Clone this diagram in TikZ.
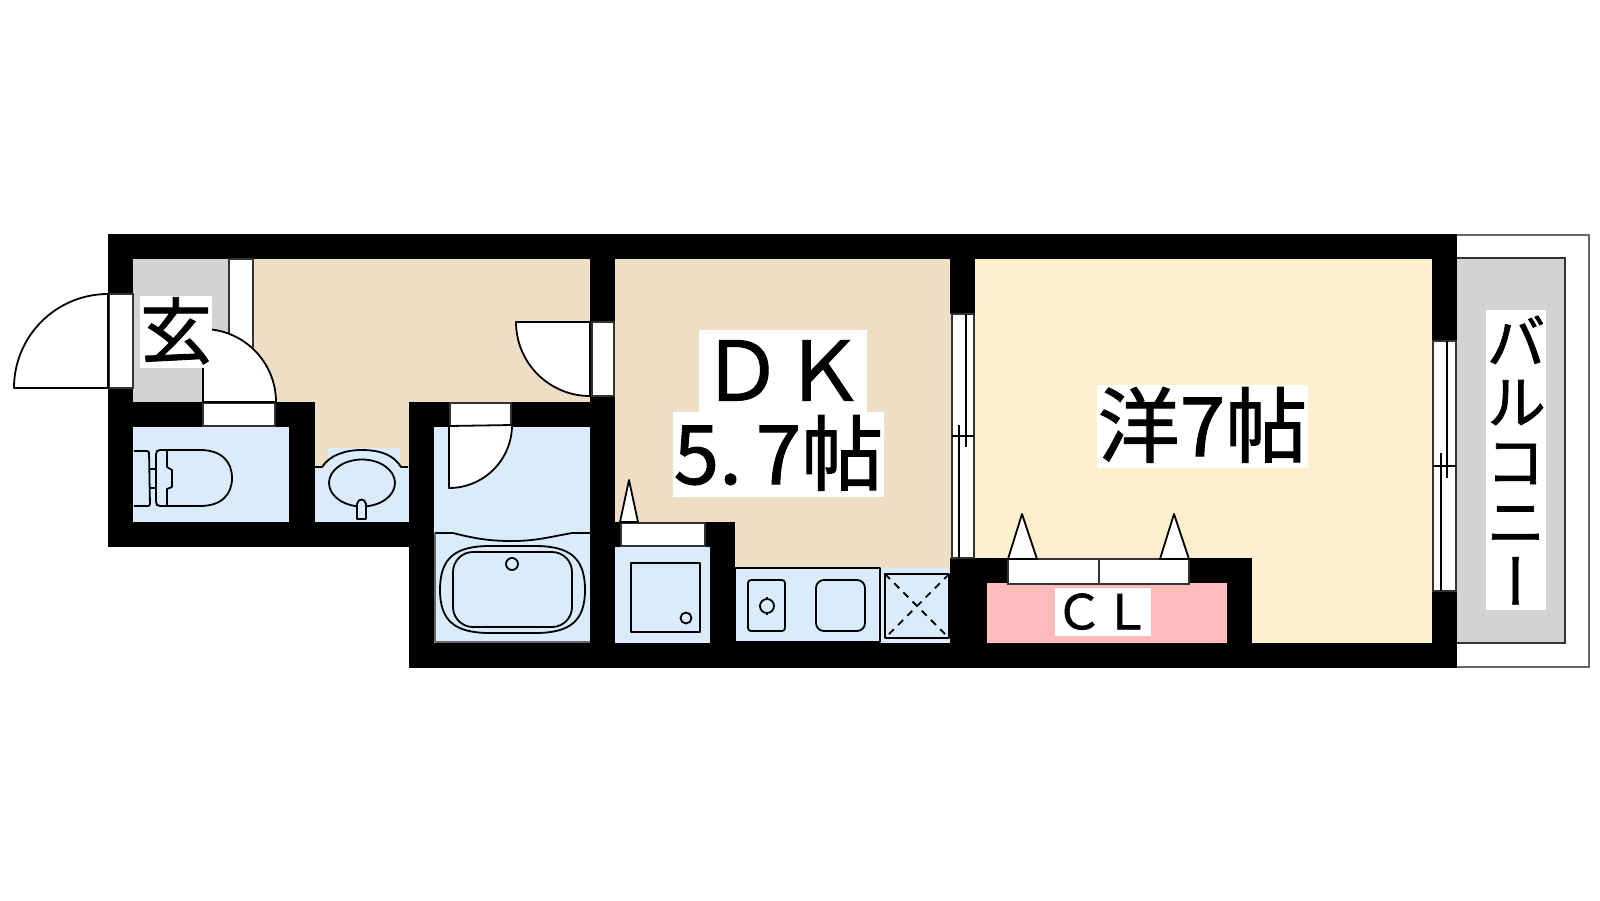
\documentclass[tikz,border=0pt]{standalone}
\usepackage{fontspec}
\setmainfont[RawFeature={embolden=1.2}]{Noto Sans CJK JP}
\newfontfamily\cjkv[RawFeature={+vert;embolden=1.2}]{Noto Sans CJK JP}
\usepackage{tikz}
\pgfdeclarelayer{background}
\pgfsetlayers{background,main}
\definecolor{dkbeige}{RGB}{238,222,197}
\definecolor{roomyellow}{RGB}{254,240,207}
\definecolor{wetblue}{RGB}{218,235,252}
\definecolor{clpink}{RGB}{255,187,187}
\definecolor{floorgray}{RGB}{211,211,211}
\tikzstyle{wall}=[fill=black]
\tikzstyle{fixture}=[draw=black, line width=1.8pt, line join=round]
\tikzstyle{opening}=[draw=black!80, fill=white, line width=1.4pt]
\tikzstyle{door}=[draw=black, fill=white, line width=1.8pt, line join=round]
\tikzset{roomlabel/.style={fill=white, inner sep=0pt, font=\fontsize{#1}{#1}\selectfont, text height=.86*#1, text depth=.14*#1}}

\begin{document}
\begin{tikzpicture}[x=1pt,y=-1pt]
  \useasboundingbox (0,0) rectangle (1600,900);

  \begin{pgfonlayer}{background}
    \fill[white] (0,0) rectangle (1600,900);
    \fill[floorgray] (133,259) rectangle (229,402);
    \fill[dkbeige] (253,259) rectangle (590,402);
    \fill[dkbeige] (315,402) rectangle (409,467);
    \fill[dkbeige] (615,259) rectangle (951,568);
    \fill[roomyellow] (975,259) rectangle (1432,643);
    \fill[wetblue] (133,427) rectangle (289,522);
    \fill[wetblue] (315,467) rectangle (409,522);
    \fill[wetblue] (328,448) rectangle (400,467);
    \fill[wetblue] (434,427) rectangle (590,643);
    \fill[wetblue] (615,547) rectangle (710,643);
    \fill[wetblue] (735,568) rectangle (951,643);
    \fill[clpink] (987,583) rectangle (1227,643);
    \path[draw=black!60, fill=white, line width=1.4pt] (1445,235) rectangle (1589,667);
    \path[draw=black!80, fill=floorgray, line width=1.4pt] (1450,258) rectangle (1565,643);
  \end{pgfonlayer}

  % walls
  \path[wall] (108,234) rectangle (1457,259);
  \path[wall] (108,234) rectangle (133,294);
  \path[wall] (108,388) rectangle (133,547);
  \path[wall] (108,522) rectangle (409,547);
  \path[wall] (133,402) rectangle (203,427);
  \path[wall] (275,402) rectangle (315,427);
  \path[wall] (289,402) rectangle (315,547);
  \path[wall] (409,402) rectangle (434,668);
  \path[wall] (409,402) rectangle (450,427);
  \path[wall] (511,402) rectangle (615,427);
  \path[wall] (590,234) rectangle (615,322);
  \path[wall] (590,396) rectangle (615,668);
  \path[wall] (409,643) rectangle (1457,668);
  \path[wall] (615,522) rectangle (621,547);
  \path[wall] (705,522) rectangle (735,547);
  \path[wall] (710,522) rectangle (735,668);
  \path[wall] (950,234) rectangle (975,314);
  \path[wall] (950,558) rectangle (1008,583);
  \path[wall] (1189,558) rectangle (1252,583);
  \path[wall] (950,558) rectangle (987,668);
  \path[wall] (1227,558) rectangle (1252,668);
  \path[wall] (1432,234) rectangle (1457,341);
  \path[wall] (1432,591) rectangle (1457,668);

  % openings
  \path[opening] (109,294) rectangle (133,388);
  \path[opening] (229,259) rectangle (253,370);
  \path[opening] (203,403) rectangle (275,426);
  \path[opening] (592,322) rectangle (614,396);
  \path[opening] (450,403) rectangle (511,426);
  \path[opening] (621,523) rectangle (705,546);
  \path[opening] (1008,559) rectangle (1099,584);
  \path[opening] (1099,559) rectangle (1189,584);

  % doors
  \path[door] (108,388) -- (108,294) arc[start angle=-90,end angle=-180,radius=94] -- cycle;
  \path[door] (203,402) -- (203,329) arc[start angle=-90,end angle=0,radius=73] -- cycle;
  \path[door] (590,322) -- (516,322) arc[start angle=180,end angle=90,radius=74] -- cycle;
  \path[door] (449,426) -- (449,488) arc[start angle=90,end angle=0,radius=63] -- cycle;
  \path[door] (620,522) -- (629,480) -- (638,522) -- cycle;
  \path[door] (1008,559) -- (1022,514) -- (1037,559) -- cycle;
  \path[door] (1160,559) -- (1174,514) -- (1189,559) -- cycle;

  % windows
  \path[opening] (952,314) rectangle (974,558);
  \path[opening] (1433,341) rectangle (1456,591);
  \draw[fixture,line width=1.4pt] (959,425) -- (959,558);
  \draw[fixture,line width=1.4pt] (966,314) -- (966,447);
  \draw[fixture,line width=1.4pt] (952,436) -- (974,436);
  \draw[fixture,line width=1.4pt] (1441,453) -- (1441,591);
  \draw[fixture,line width=1.4pt] (1447,341) -- (1447,478);
  \draw[fixture,line width=1.4pt] (1433,466) -- (1456,466);

  % toilet
  \draw[fixture,rounded corners=2] (134,451) -- (149,451) -- (150,506) -- (134,506);
  \draw[fixture] (150,469) -- (156,469) (150,488) -- (156,488);
  \draw[fixture,rounded corners=2] (200,450) -- (158,450) -- (156,452) -- (156,504) -- (158,506) -- (200,506);
  \draw[fixture] (200,450) .. controls (222,450) and (232,462) .. (232,478) .. controls (232,494) and (222,506) .. (200,506);
  \draw[fixture] (167,450) -- (167,467) -- (172,470) -- (172,487) -- (167,489) -- (167,506);

  % wash basin
  \draw[fixture] (315,467) -- (322,467) .. controls (330,455) and (345,450) .. (362,450) .. controls (380,450) and (394,455) .. (401,467) -- (408,467);
  \draw[fixture] (362,483) ellipse (33 and 23.5);
  \path[door,fill=wetblue] (357,519) -- (357,504) .. controls (358,498) and (365,498) .. (366,504) -- (366,519) -- cycle;

  % bath
  \draw[fixture] (435,533) -- (453,533) .. controls (480,540) and (495,541) .. (513,541) .. controls (535,541) and (550,537) .. (572,533) -- (590,533);
  \draw[fixture,draw=black!60,line width=1.4pt] (435,533) -- (435,642) -- (590,642);
  \draw[fixture] (440,590) .. controls (440,558) and (455,546) .. (490,546) -- (535,546) .. controls (570,546) and (585,558) .. (585,590)
     .. controls (585,621) and (570,633) .. (535,633) -- (490,633) .. controls (455,633) and (440,621) .. (440,590) -- cycle;
  \draw[fixture,rounded corners=20] (453,552) rectangle (572,627);
  \draw[fixture] (512,564) circle (6);

  % washing pan
  \draw[fixture] (631,563) rectangle (700,632);
  \draw[fixture] (686,618) circle (5.5);

  % kitchen
  \draw[fixture] (735,568) rectangle (880,642);
  \draw[fixture,rounded corners=3] (748,580) rectangle (785,631);
  \draw[fixture] (767,606) circle (7);
  \draw[fixture] (767,597) -- (767,600) (767,612) -- (767,615);
  \draw[fixture,rounded corners=8] (816,580) rectangle (865,631);
  \draw[fixture] (885,574) rectangle (949,638);
  \draw[fixture,dash pattern=on 7pt off 6pt] (885,574) -- (949,638) (949,574) -- (885,638);

  % labels
  \node[roomlabel=72, minimum width=72, minimum height=72] (genkan) at (176,332) {玄};
  \node[roomlabel=82, minimum width=168, minimum height=82] (dk) at (783,371) {ＤＫ};
  \node[roomlabel=82, minimum width=211, minimum height=85] (dksize) at (778.5,454.5) {5.\hspace{-.13em} 7帖};
  \node[roomlabel=82, minimum width=211, minimum height=83] (western) at (1202.5,426.5) {洋7帖};
  \node[roomlabel=48, minimum width=96, minimum height=48] (cl) at (1103,612) {ＣＬ};
  \node[fill=white, inner sep=0pt, align=center, minimum width=60, minimum height=300, font=\cjkv\fontsize{60}{60}\selectfont] (balcony) at (1516,460) {バ\\ル\\コ\\ニ\\ー};
\end{tikzpicture}
\end{document}
